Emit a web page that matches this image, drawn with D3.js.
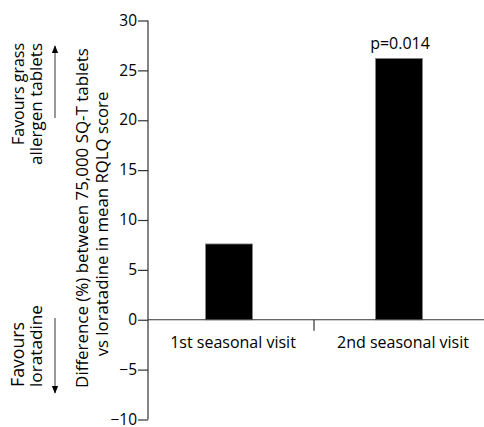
<!DOCTYPE html>
<html><head><meta charset="utf-8">
<script src="https://cdn.jsdelivr.net/npm/d3@7"></script>
<style>
body{margin:0;background:#fff;}
text{font-family:"Open Sans",sans-serif;fill:#000;}
</style></head>
<body><svg id="c" width="484" height="427"></svg>
<script>
const categories = ["1st seasonal visit", "2nd seasonal visit"];
const values = [7.6, 26.2];
const annotations = ["", "p=0.014"];
const yTicks = [-10, -5, 0, 5, 10, 15, 20, 25, 30];
const yLabelLines = ["Difference (%) between 75,000 SQ-T tablets", "vs loratadine in mean RQLQ score"];
const upLabel = ["Favours grass", "allergen tablets"];
const downLabel = ["Favours", "loratadine"];

const svg = d3.select("#c");
const axisX = 148;
const y = d3.scaleLinear().domain([-10, 30]).range([419.5, 20.5]);
const x = d3.scaleBand().domain(categories).range([144, 484]).padding(0);
const barW = 47;
const stroke = "#333";

// scale a text's font size so its rendered length matches a target length
function fit(sel, target) {
  sel.attr("font-size", 15);
  const len = sel.node().getComputedTextLength();
  if (len > 0) sel.attr("font-size", (15 * target / len).toFixed(2));
}

// bars
svg.selectAll("rect.bar").data(values).enter().append("rect")
  .attr("x", (d,i) => x(categories[i]) + x.bandwidth()/2 - barW/2)
  .attr("y", d => y(Math.max(d,0)))
  .attr("width", barW)
  .attr("height", d => Math.abs(y(d) - y(0)))
  .attr("fill", "#000").attr("stroke", "#888").attr("stroke-width", 0.8);

// annotations
svg.selectAll("text.ann").data(values).enter().append("text")
  .attr("x", (d,i) => x(categories[i]) + x.bandwidth()/2 + 1)
  .attr("y", d => y(d) - 9)
  .attr("text-anchor", "middle").attr("font-size", 16)
  .text((d,i) => annotations[i]);

// y axis
const yAxis = d3.axisLeft(y).tickValues(yTicks).tickSize(10).tickPadding(1)
  .tickFormat(d => d < 0 ? "\u2212" + Math.abs(d) : d);
const gy = svg.append("g").attr("transform", `translate(${axisX},0)`).call(yAxis);
gy.select(".domain").attr("stroke", stroke).attr("stroke-width", 1.2).attr("d", `M0,${y(30)}V${y(-10)}`);
gy.selectAll(".tick line").attr("stroke", stroke).attr("stroke-width", 1.2);
gy.selectAll(".tick text").attr("font-size", 15.5).attr("dy", "0.3em").attr("font-family", "Open Sans").attr("fill", "#000");

// x axis at zero
const y0 = y(0);
svg.append("line").attr("x1", axisX).attr("x2", 484).attr("y1", y0).attr("y2", y0)
  .attr("stroke", stroke).attr("stroke-width", 1.2);
// divider tick between categories
const mid = x(categories[1]);
svg.append("line").attr("x1", mid).attr("x2", mid).attr("y1", y0).attr("y2", y0 + 11)
  .attr("stroke", stroke).attr("stroke-width", 1.2);
svg.selectAll("text.cat").data(categories).enter().append("text")
  .attr("x", d => x(d) + x.bandwidth()/2 + 4)
  .attr("y", y0 + 28)
  .attr("text-anchor", "middle").attr("font-size", 16)
  .text(d => d);

// y label (rotated, two lines)
const yl1 = svg.append("text")
  .attr("transform", `translate(88,218) rotate(-90)`)
  .attr("text-anchor", "middle").text(yLabelLines[0]);
fit(yl1, 340);
const yl2 = svg.append("text")
  .attr("transform", `translate(108,224) rotate(-90)`)
  .attr("text-anchor", "middle").text(yLabelLines[1]);
fit(yl2, 265);

// favours labels
const upX = [24, 41.5];
const upLen = [102, 122];
upLabel.forEach((t, i) => {
  const s = svg.append("text")
    .attr("transform", `translate(${upX[i]},43) rotate(-90)`)
    .attr("text-anchor", "end").text(t);
  fit(s, upLen[i]);
});
const downLen = [65, 82];
downLabel.forEach((t, i) => {
  const s = svg.append("text")
    .attr("transform", `translate(${upX[i]},387) rotate(-90)`)
    .attr("text-anchor", "start").text(t);
  fit(s, downLen[i]);
});

// arrows
const defs = svg.append("defs");
defs.append("marker").attr("id", "ah").attr("viewBox", "0 0 10 10")
  .attr("refX", 9).attr("refY", 5).attr("markerWidth", 8).attr("markerHeight", 8)
  .attr("markerUnits", "userSpaceOnUse").attr("orient", "auto")
  .append("path").attr("d", "M0,1 L10,5 L0,9 Z").attr("fill", "#000");
svg.append("line").attr("x1", 55).attr("x2", 55).attr("y1", 118).attr("y2", 46)
  .attr("stroke", "#333").attr("stroke-width", 1).attr("marker-end", "url(#ah)");
svg.append("line").attr("x1", 55).attr("x2", 55).attr("y1", 318).attr("y2", 393)
  .attr("stroke", "#333").attr("stroke-width", 1).attr("marker-end", "url(#ah)");
</script></body></html>
